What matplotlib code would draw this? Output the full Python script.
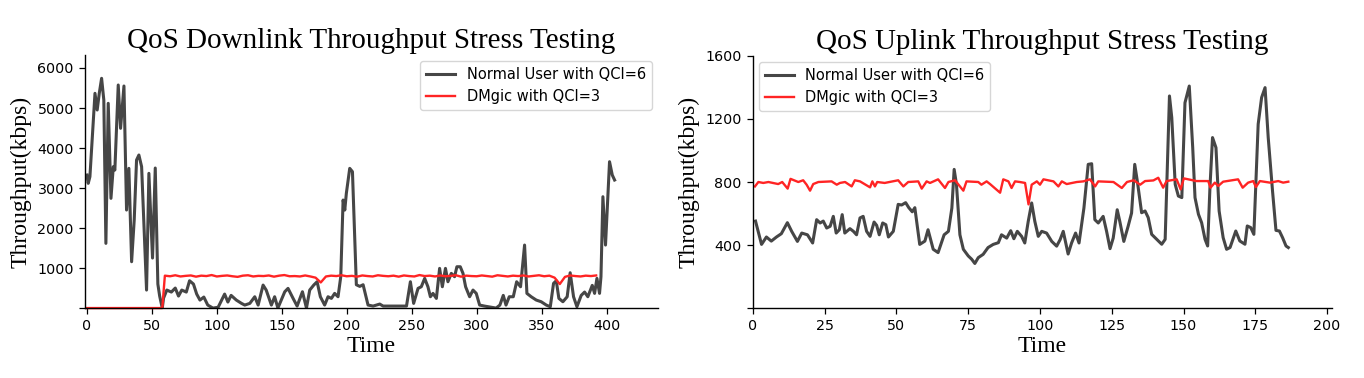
import matplotlib
matplotlib.use("Agg")
import matplotlib.pyplot as plt

# ---- downlink, normal user (QCI=6)
dl_user_t = [0, 1, 2.3, 6.2, 7.9, 9.5, 11.3, 13, 14.6, 16.4, 18.5, 20.3, 21.5, 24.1, 25.9,
             28.5, 30.5, 32.3, 34.4, 36.4, 38.2, 40, 42.1, 45.9, 47.7, 50.5, 52.6, 54.6, 56,
             58, 59, 61.5, 65, 68, 70.5, 73, 76.5, 79, 82, 84.5, 87, 90, 93, 97, 101, 106,
             108.5, 111, 115, 119, 121.5, 125.4, 129.2, 131.8, 135.6, 138, 142, 144.5, 147,
             152.3, 154.8, 158.7, 161.8, 165.9, 169, 171.5, 174.6, 177.2, 179.7, 183, 185.6,
             188.2, 190.7, 193.3, 195.4, 197.2, 198.5, 199.7, 202.3, 204.4, 207.4, 210, 212.6,
             216.4, 220.3, 225.4, 228, 246, 249, 251.5, 254.9, 257.4, 260, 262.5, 264.4, 266.4,
             269, 271.5, 273.6, 276, 277.9, 280.5, 283, 284.8, 287.4, 289.5, 291.5, 294.6,
             297.2, 299.7, 302.3, 306, 315, 317.9, 320.5, 322.6, 325.1, 328.2, 330.8, 333.8,
             336.9, 338.7, 342, 345.9, 349.7, 353.6, 356.7, 359.2, 361.3, 363.3, 366.4, 369.7,
             372, 374.6, 377.2, 380.5, 383.1, 385.6, 389, 390.8, 392.6, 394.6, 395.7, 397.2,
             399.2, 402.3, 404.4, 406.2]
dl_user_v = [3325, 3117, 3283, 5367, 4950, 5367, 5742, 5200, 1617, 5117, 2742, 3533, 3450, 5575,
             4492, 5550, 2450, 3492, 1158, 2200, 3700, 3825, 3533, 450, 3367, 1250, 3500, 600,
             300, 0, 250, 450, 400, 500, 300, 450, 400, 683, 600, 350, 200, 275, 75, 0, 20, 350,
             150, 317, 200, 117, 75, 117, 283, 75, 575, 450, 75, 283, 0,
             408, 492, 242, 50, 408, 0, 450, 575, 658, 283, 75, 283,
             242, 367, 283, 783, 2700, 2450, 2867, 3492, 3408, 583, 542, 583,
             75, 50, 100, 50, 50, 658, 117, 492, 533, 742, 533, 283, 367,
             242, 992, 533, 992, 658, 867, 783, 1033, 1033, 867, 533, 283,
             450, 367, 75, 50, 0, 75, 317, 75, 283, 283, 658, 533,
             1575, 367, 283, 200, 158, 75, 33, 617, 683, 242, 158, 283,
             883, 283, 33, 317, 400, 283, 567, 367, 742, 367, 783, 2783,
             1575, 3658, 3325, 3200]

# ---- downlink, DMgic (QCI=3)
dl_dmgic_t = [0, 58] + list(range(60, 396, 4))
dl_dmgic_v = [0, 0,
              810, 795, 820, 790, 805, 815, 785, 810, 800, 825,
              790, 805, 815, 795, 780, 810, 820, 790, 805, 800,
              815, 785, 810, 825, 795, 800, 790, 815, 790, 760,
              640, 790, 810, 800, 820, 795, 805, 785, 815, 800,
              790, 820, 805, 795, 810, 785, 815, 800, 790, 825,
              800, 810, 790, 815, 795, 805, 820, 785, 810, 800,
              795, 815, 800, 785, 820, 805, 790, 810, 800, 815,
              790, 805, 820, 795, 810, 760, 600, 780, 815, 800,
              790, 810, 800, 815]

# ---- uplink, normal user (QCI=6)
ul_user_t = [0.9, 3, 4.7, 6.4, 8.2, 9.9, 12, 13.5, 15.5, 17, 19, 20.8, 22.2, 23.4, 24.5, 25.7,
             26.9, 28, 29, 30.1, 31.1, 32, 33.8, 35, 36.1, 37.3, 38.4, 39.6, 40.8, 42.2, 43.1,
             44, 45.2, 46.3, 47.2, 48.9, 50.6, 51.8, 53.2, 54.3, 55.5, 56.4, 58.1, 59.9, 61,
             62.8, 64.5, 66.6, 68.1, 69.3, 70.1, 70.9, 72.1, 73.3, 75, 76.2, 77.3, 78.5, 80.2,
             81.9, 83.7, 85.5, 86.6, 88.4, 89.8, 90.9, 92.1, 93.6, 94.7, 95.9, 97.1, 98.2,
             99.4, 100.6, 102.3, 104.1, 105.8, 107, 108.1, 109.8, 111, 112.4, 113.6, 115.3,
             116.8, 118, 119.1, 120.3, 122, 123.2, 124.4, 125.5, 126.9, 127.8, 129.2, 130.7,
             131.9, 133, 133.9, 135.4, 136.6, 137.7, 138.9, 140.7, 142.4, 143.6, 145.1, 145.9,
             147.1, 148.2, 149.4, 150.5, 152, 153.2, 154, 155.2, 156.3, 157.5, 158.4, 159.2,
             160.1, 161.3, 162.4, 163.8, 165, 166.2, 168.2, 169.6, 171.4, 172.2, 173.4, 174.5,
             176, 177.2, 178.4, 179.5, 181, 182.2, 183.4, 184.5, 185.7, 186.5]
ul_user_v = [552, 404, 451, 425, 451, 472, 542, 487, 423, 476, 465, 413, 561, 540, 552, 508,
             519, 582, 476, 497, 593, 476, 504, 487, 465, 572, 582, 487, 455, 546, 525,
             465, 540, 529, 451, 487, 658, 654, 669, 637, 611, 637, 404, 425, 497,
             373, 352, 465, 487, 635, 880, 785, 465, 373, 331, 310, 283, 320, 341,
             384, 404, 415, 465, 444, 491, 440, 487, 455, 413, 550, 667, 550,
             455, 487, 476, 423, 393, 434, 487, 343, 413, 476, 413, 635,
             912, 916, 561, 540, 582, 487, 377, 444, 624, 550, 423, 519,
             603, 912, 806, 605, 616, 574, 468, 436, 405, 436, 1346, 1209,
             785, 711, 701, 1303, 1409, 1018, 701, 595, 542, 436, 394, 764,
             1082, 1018, 616, 447, 373, 384, 489, 426, 405, 521, 511, 468,
             1167, 1336, 1399, 1082, 743, 493, 489, 447, 394, 384]

# ---- uplink, DMgic (QCI=3)
ul_dmgic_t = [0.7, 1.9, 3.6, 5.4, 8.8, 10.2, 12.1, 13.1, 15.8, 17.5, 18.7, 19.9, 21, 22.8, 27.4,
              29.2, 30.3, 32.1, 34.4, 35.5, 37.3, 40.8, 41.6, 42.5, 43.3, 45.9, 50.6, 52.4,
              54.1, 57.6, 58.8, 60.5, 61.7, 64.5, 66.9, 68.1, 70.4, 73.3, 74.4, 78.5, 79.6,
              81.4, 82.6, 86.1, 87.2, 89, 90.1, 91.3, 93, 94.8, 96, 97.1, 98.9, 100, 101.2,
              104.7, 106.4, 107.6, 109.3, 112.8, 115.1, 117.4, 119.2, 120.3, 125.6, 128.5,
              130.3, 132.6, 134.9, 136.6, 139.5, 141.2, 142.9, 144.1, 147.6, 149, 150.1,
              154.5, 158.6, 159.4, 160.9, 162.1, 163.8, 169, 170.6, 172.5, 174.3, 175.2,
              176.6, 180.1, 183, 184.7, 186.5]
ul_dmgic_v = [772, 800, 794, 800, 787, 800, 758, 820, 800, 811, 783, 745, 787, 800, 804,
              783, 794, 800, 772, 811, 804, 766, 804, 772, 800, 794, 811, 772,
              800, 804, 758, 804, 794, 817, 762, 800, 811, 745, 804, 800, 783,
              804, 787, 732, 817, 804, 762, 804, 800, 794, 658, 783, 804, 783, 817,
              804, 772, 804, 787, 800, 804, 817, 772, 804, 800, 762,
              800, 811, 783, 806, 810, 827, 764, 806, 817, 753, 823,
              806, 806, 764, 796, 775, 802, 817, 764, 796, 806, 768,
              806, 796, 806, 796, 802]

user_color = "#464646"
dmgic_color = "#ff2424"
serif = ["Liberation Serif", "DejaVu Serif"]

fig = plt.figure(figsize=(13.64, 3.78), dpi=100)
ax1 = fig.add_axes([0.0623, 0.185, 0.420, 0.669])
ax2 = fig.add_axes([0.552, 0.185, 0.4245, 0.667])

panels = [
    (ax1, "QoS Downlink Throughput Stress Testing", dl_user_t, dl_user_v, dl_dmgic_t, dl_dmgic_v,
     "upper right", (-1.5, 439.5), (0, 6320), list(range(0, 401, 50)), list(range(0, 6001, 1000))),
    (ax2, "QoS Uplink Throughput Stress Testing", ul_user_t, ul_user_v, ul_dmgic_t, ul_dmgic_v,
     "upper left", (0, 201.7), (0, 1600), list(range(0, 201, 25)), list(range(0, 1601, 400))),
]

for ax, title, ut, uv, dt, dv, loc, xlim, ylim, xt, yt in panels:
    ax.plot(ut, uv, color=user_color, lw=2.2, label="Normal User with QCI=6")
    ax.plot(dt, dv, color=dmgic_color, lw=1.7, label="DMgic with QCI=3", clip_on=False)
    ax.set_xlim(*xlim)
    ax.set_ylim(*ylim)
    ax.set_xticks(xt)
    ax.set_yticks(yt)
    ax.set_yticklabels([""] + [str(v) for v in yt[1:]])
    ax.tick_params(labelsize=10.3, length=4.5, width=0.9)
    for side in ("top", "right"):
        ax.spines[side].set_visible(False)
    for side in ("left", "bottom"):
        ax.spines[side].set_linewidth(1.0)
    ax.set_title(title, fontsize=21, family=serif, pad=5)
    ax.set_xlabel("Time", fontsize=17, family=serif, labelpad=2)
    ax.set_ylabel("Throughput(kbps)", fontsize=17, family=serif, labelpad=4)
    ax.legend(loc=loc, fontsize=10.5, framealpha=0.8, borderaxespad=0.4)

fig.savefig("out.png", dpi=100)
